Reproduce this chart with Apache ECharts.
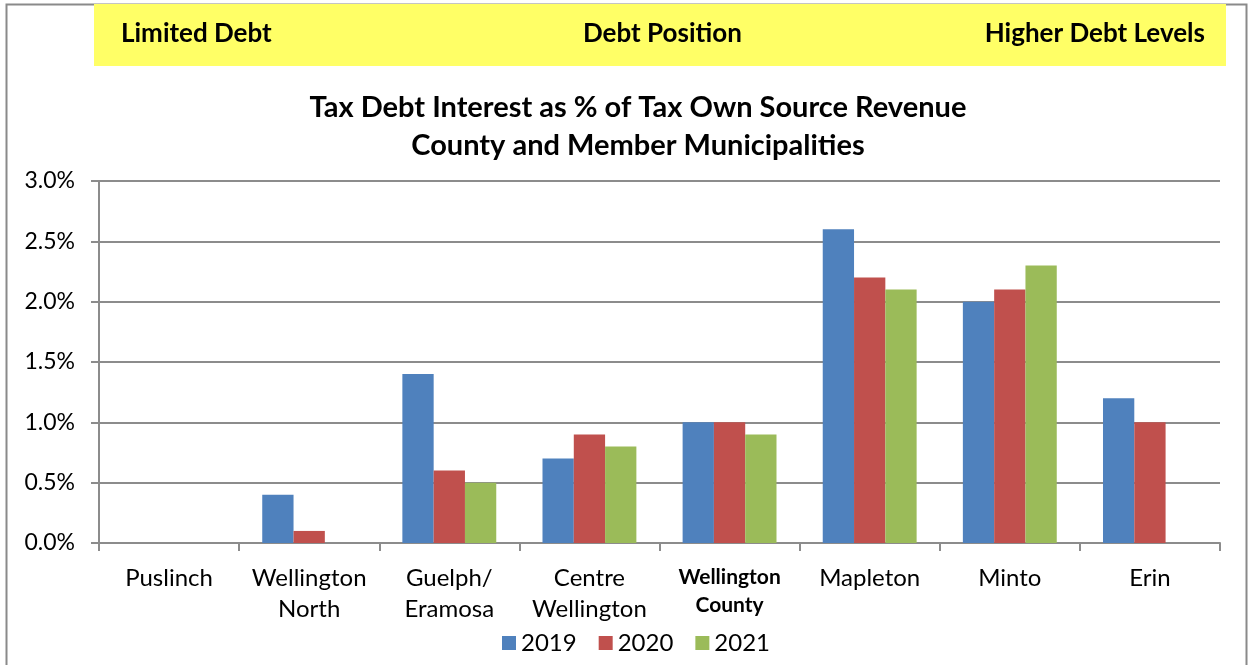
<!DOCTYPE html>
<html>
<head>
<meta charset="utf-8">
<script src="https://cdn.jsdelivr.net/npm/echarts@6/dist/echarts.min.js"></script>
<style>
  html, body { margin: 0; padding: 0; background: #fff; }
  #main { width: 1249px; height: 665px; }
</style>
</head>
<body>
<div id="main"></div>
<script>
// municipalities, values in percent
const categories = ["Puslinch", "Wellington\nNorth", "Guelph/\nEramosa", "Centre\nWellington",
  "Wellington\nCounty", "Mapleton", "Minto", "Erin"];
const years = ["2019", "2020", "2021"];
const v2019 = [0, 0.4, 1.4, 0.7, 1.0, 2.6, 2.0, 1.2];
const v2020 = [0, 0.1, 0.6, 0.9, 1.0, 2.2, 2.1, 1.0];
const v2021 = [0, 0, 0.5, 0.8, 0.9, 2.1, 2.3, 0];
const colors = ["#4F81BD", "#C0504D", "#9BBB59"];

const font = "Lato, 'Open Sans', sans-serif";
const gridGray = "#8c8c8c";

let myChart = echarts.init(document.getElementById("main"));

function bar(name, data, color) {
  return {
    name: name,
    type: "bar",
    data: data,
    barGap: "0%",
    barCategoryGap: "33%",
    itemStyle: { color: color, borderWidth: 0 },
  };
}

myChart.setOption({
  animation: false,
  textStyle: { fontFamily: font },
  color: colors,
  graphic: [
    // outer chart frame
    {
      type: "rect",
      shape: { x: 6.5, y: 4.5, width: 1240, height: 680 },
      style: { fill: "none", stroke: "#8a8a8a", lineWidth: 2 },
      z: 0,
    },
    // yellow banner
    {
      type: "rect",
      shape: { x: 94, y: 4, width: 1132, height: 62 },
      style: { fill: "#FFFF66" },
      z: 1,
    },
    {
      type: "text", left: 121, top: 21, z: 2,
      style: { text: "Limited Debt", font: "bold 26px " + font, fill: "#000" },
    },
    {
      type: "text", left: 583, top: 21, z: 2,
      style: { text: "Debt Position", font: "bold 26px " + font, fill: "#000" },
    },
    {
      type: "text", right: 44, top: 21, z: 2,
      style: { text: "Higher Debt Levels", font: "bold 26px " + font, fill: "#000" },
    },
  ],
  title: {
    text: "Tax Debt Interest as % of Tax Own Source Revenue\nCounty and Member Municipalities",
    left: 633,
    textAlign: "center",
    top: 84,
    textStyle: {
      fontFamily: font,
      fontSize: 29,
      fontWeight: "bold",
      color: "#000",
      lineHeight: 38,
    },
  },
  legend: {
    data: years,
    left: 497,
    top: 626,
    icon: "rect",
    itemWidth: 14,
    itemHeight: 14,
    itemGap: 22,
    textStyle: { fontFamily: font, fontSize: 24, color: "#000" },
  },
  grid: {
    left: 99,
    right: 29,
    top: 181,
    bottom: 122,
    containLabel: false,
  },
  xAxis: {
    type: "category",
    data: categories,
    axisLine: { lineStyle: { color: gridGray, width: 2 } },
    axisTick: { show: true, length: 8, lineStyle: { color: gridGray, width: 2 } },
    axisLabel: {
      interval: 0,
      margin: 20,
      fontFamily: font,
      fontSize: 24,
      lineHeight: 31,
      color: "#000",
      formatter: function (val) {
        if (val === "Wellington\nCounty") return "{b|Wellington}\n{b|County}";
        return val;
      },
      rich: {
        b: { fontFamily: font, fontSize: 21, fontWeight: "bold", lineHeight: 28, color: "#000" },
      },
    },
  },
  yAxis: {
    type: "value",
    min: 0,
    max: 3,
    interval: 0.5,
    axisLine: { show: true, lineStyle: { color: gridGray, width: 2 } },
    axisTick: { show: true, length: 8, lineStyle: { color: gridGray, width: 2 } },
    splitLine: { lineStyle: { color: gridGray, width: 2 } },
    axisLabel: {
      margin: 24,
      fontFamily: font,
      fontSize: 23,
      color: "#000",
      formatter: function (v) { return v.toFixed(1) + "%"; },
    },
  },
  series: [
    bar(years[0], v2019, colors[0]),
    bar(years[1], v2020, colors[1]),
    bar(years[2], v2021, colors[2]),
  ],
});
</script>
</body>
</html>
